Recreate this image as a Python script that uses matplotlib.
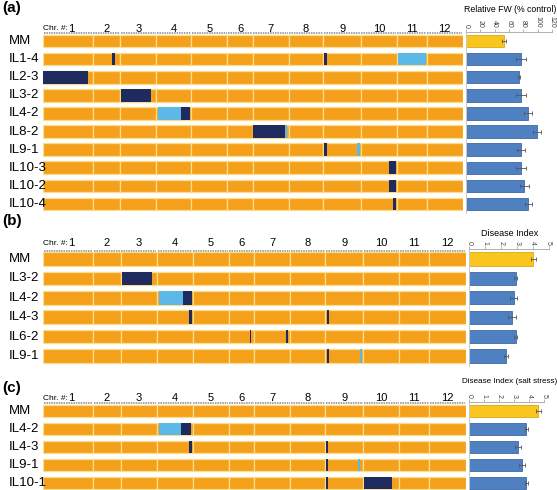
import matplotlib
matplotlib.use('Agg')
import matplotlib.pyplot as plt

plt.rcParams['font.family'] = ['Liberation Sans', 'DejaVu Sans']

# chromosome lengths (Mb)
chr_names = ['1', '2', '3', '4', '5', '6', '7', '8', '9', '10', '11', '12']
chr_len = [90, 50, 65, 64, 65, 46, 65, 63, 68, 65, 54, 66]

# introgressions: (chromosome, start Mb, end Mb, kind)  S = dark, H = light
lines_a = ['MM', 'IL1-4', 'IL2-3', 'IL3-2', 'IL4-2', 'IL8-2', 'IL9-1', 'IL10-3', 'IL10-2', 'IL10-4']
segs_a = {
    'IL1-4': [(2, 35, 40, 'S'), (9, 1, 6, 'S'), (11, 2, 53, 'H')],
    'IL2-3': [(1, 0, 81, 'S')],
    'IL3-2': [(3, 1, 56, 'S')],
    'IL4-2': [(4, 3, 45, 'H'), (4, 45, 61, 'S')],
    'IL8-2': [(7, 0, 58, 'S'), (7, 58, 62, 'H')],
    'IL9-1': [(9, 1, 6, 'S'), (9, 61, 66, 'H')],
    'IL10-3': [(10, 51, 63, 'S')],
    'IL10-2': [(10, 51, 63, 'S')],
    'IL10-4': [(10, 58, 63, 'S')],
}
fw = [53, 76.5, 74, 76.5, 87, 99, 76.5, 77, 81.5, 87]
fw_err = [3, 7, 2, 7, 5.5, 5, 5.5, 7, 6, 5]

lines_b = ['MM', 'IL3-2', 'IL4-2', 'IL4-3', 'IL6-2', 'IL9-1']
segs_b = {
    'IL3-2': [(3, 1.5, 56, 'S')],
    'IL4-2': [(4, 3, 46.5, 'H'), (4, 46.5, 62.5, 'S')],
    'IL4-3': [(4, 57, 62.5, 'S'), (9, 3.5, 6.5, 'S')],
    'IL6-2': [(6, 38, 41, 'S'), (7, 58, 61, 'S')],
    'IL9-1': [(9, 3, 6, 'S'), (9, 62, 65, 'H')],
}
di = [4.04, 2.94, 2.83, 2.68, 2.94, 2.33]
di_err = [0.16, 0.1, 0.22, 0.25, 0.1, 0.12]

lines_c = ['MM', 'IL4-2', 'IL4-3', 'IL9-1', 'IL10-1']
segs_c = {
    'IL4-2': [(4, 3.5, 44, 'H'), (4, 44, 62, 'S')],
    'IL4-3': [(4, 57, 63, 'S'), (9, 1, 5, 'S')],
    'IL9-1': [(9, 1, 5, 'S'), (9, 58, 62, 'H')],
    'IL10-1': [(9, 1, 5, 'S'), (10, 1, 51, 'S')],
}
dis = [4.62, 3.8, 3.27, 3.51, 3.8]
dis_err = [0.15, 0.1, 0.2, 0.2, 0.1]

ORANGE = '#F5A01A'
EDGE = '#F8DE8E'
SEG_COL = {'S': '#1F2A5E', 'H': '#5CB8E6'}
BLUE = '#4F80C1'
GOLD = '#F9C51F'

W, H = 557, 490
fig = plt.figure(figsize=(W / 100, H / 100), dpi=100)


def px_axes(x0, x1, y0, y1):
    return fig.add_axes([x0 / W, 1 - y1 / H, (x1 - x0) / W, (y1 - y0) / H])


def genome_panel(lines, segs, x0, x1, top, step, head_y):
    n = len(lines)
    ax = px_axes(x0, x1, top, top + step * n)
    starts = [sum(chr_len[:i]) for i in range(12)]
    total = sum(chr_len)
    for r, name in enumerate(lines):
        ax.barh([r] * 12, chr_len, left=starts, height=0.7, color=ORANGE,
                edgecolor=EDGE, linewidth=0.9)
        for c, s, e, kind in segs.get(name, []):
            ax.barh(r, e - s, left=starts[c - 1] + s, height=0.7,
                    color=SEG_COL[kind], edgecolor='none')
        ax.text(-34 * total / (x1 - x0), r, name, ha='left', va='center',
                fontsize=9.5, clip_on=False)
    # marker line and chromosome numbers
    for i in range(12):
        ax.plot([starts[i] + 1, starts[i] + chr_len[i] - 1], [-0.43, -0.43],
                color='#8a8a8a', lw=1.1, ls=(0, (1, 0.6)), clip_on=False)
        ax.text(starts[i] + chr_len[i] / 2 + (6 if i == 0 else 0), head_y,
                chr_names[i], ha='center', va='center', fontsize=8, clip_on=False)
    ax.text(0, head_y, 'Chr. #:', ha='left', va='center', fontsize=6, clip_on=False)
    ax.set_xlim(0, total)
    ax.set_ylim(n - 0.5, -0.5)
    ax.axis('off')


def bar_panel(vals, errs, x0, x1, top, step, xmax, ticks, title, title_y, title_size):
    n = len(vals)
    ax = px_axes(x0, x1, top, top + step * n)
    cols = [GOLD] + [BLUE] * (n - 1)
    edges = ['#E0A810'] + ['#3D6AA8'] * (n - 1)
    ax.barh(range(n), vals, height=0.68, color=cols, edgecolor=edges, linewidth=0.6,
            xerr=errs, error_kw=dict(ecolor='#555555', elinewidth=0.6, capsize=1.2,
                                     capthick=0.6))
    ax.set_xlim(0, xmax)
    ax.set_ylim(n - 0.5, -0.5)
    ax.xaxis.tick_top()
    ax.set_xticks(ticks)
    ax.set_xticklabels([str(t) for t in ticks])
    ax.tick_params(axis='x', labelsize=5, rotation=270, length=2, width=0.5,
                   color='#999999', labelcolor='#444444', pad=1)
    ax.set_yticks([])
    for side in ['right', 'bottom']:
        ax.spines[side].set_visible(False)
    ax.spines['top'].set_color('#b0b0b0')
    ax.spines['left'].set_color('#c8c8c8')
    ax.spines['top'].set_linewidth(0.7)
    ax.spines['left'].set_linewidth(0.7)
    fig.text(510 / W, 1 - title_y / H, title, ha='center',
             va='center', fontsize=title_size)


# panel (a)
fig.text(2 / W, 1 - 8 / H, '(a)', fontsize=11, fontweight='bold', va='center')
genome_panel(lines_a, segs_a, 43, 463, 32, 18.1, -0.69)
bar_panel(fw, fw_err, 466, 552, 32, 18.1, 120, [0, 20, 40, 60, 80, 100, 120],
          'Relative FW (% control)', 10, 6.3)

# panel (b)
fig.text(2 / W, 1 - 221 / H, '(b)', fontsize=11, fontweight='bold', va='center')
genome_panel(lines_b, segs_b, 43, 466, 249.3, 19.4, -0.82)
bar_panel(di, di_err, 469, 548.5, 249.3, 19.4, 5, [0, 1, 2, 3, 4, 5],
          'Disease Index', 234, 6.5)

# panel (c)
fig.text(2 / W, 1 - 388 / H, '(c)', fontsize=11, fontweight='bold', va='center')
genome_panel(lines_c, segs_c, 43, 466, 402, 18, -0.72)
bar_panel(dis, dis_err, 469, 544, 402, 18, 5, [0, 1, 2, 3, 4, 5],
          'Disease Index (salt stress)', 381, 5.9)

fig.savefig('out.png', dpi=100)
